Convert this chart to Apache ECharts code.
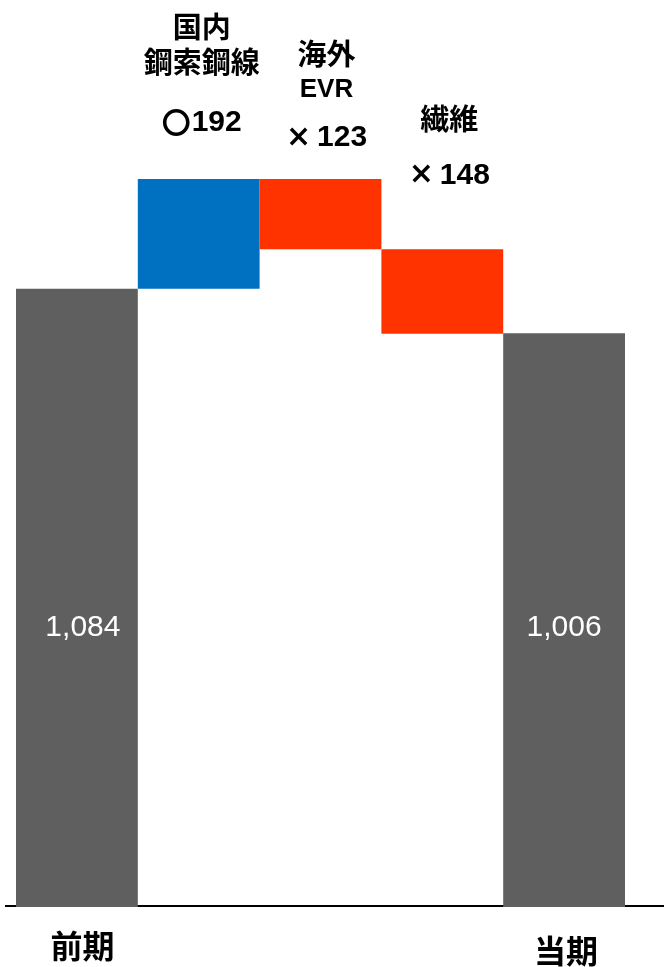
<!DOCTYPE html>
<html>
<head>
<meta charset="utf-8">
<script src="https://cdn.jsdelivr.net/npm/echarts@6/dist/echarts.min.js"></script>
<style>
html,body{margin:0;padding:0;background:#fff;}
#c{width:664px;height:967px;}
</style>
</head>
<body>
<div id="c"></div>
<script>
// ---- data ----
const categories = ['前期', '国内\n鋼索鋼線', '海外\nEVR', '繊維', '当期'];
const startValue = 1084;
const deltaValues = [192, -123, -148];
const endValue = 1006;
const totalLabels = ['1,084', '1,006'];

// ---- styles ----
const GRAY = '#5f5f5f', BLUE = '#0070c0', RED = '#ff3300';
const deltaLabelStyle = [
  { vLH: 88, dist: 12, dx: 3 },
  { vLH: 60, dist: 11, dx: 6 },
  { vLH: 78, dist: 35, dx: 7 }
];

// ---- build waterfall ----
const baseData = [0];
const barData = [];
barData.push({
  value: startValue,
  itemStyle: { color: GRAY },
  label: { show: true, position: 'insideBottom', distance: 264, offset: [6, 0],
           formatter: totalLabels[0], color: '#fff', fontSize: 30,
           fontFamily: 'Liberation Sans, Arial, sans-serif' }
});
let running = startValue;
deltaValues.forEach((d, i) => {
  let base;
  if (d >= 0) { base = running; running += d; }
  else { running += d; base = running; }
  baseData.push(base);
  const nameLines = categories[i + 1].split('\n').map(s =>
    /^[A-Za-z0-9]+$/.test(s) ? '{e|' + s + '}' : '{n|' + s + '}');
  const sym = d >= 0 ? '〇' : '×';
  const st = deltaLabelStyle[i];
  barData.push({
    value: Math.abs(d),
    itemStyle: { color: d >= 0 ? BLUE : RED },
    label: {
      show: true, position: 'top', distance: st.dist, offset: [st.dx, 0],
      formatter: nameLines.join('\n') + '\n{' + (d >= 0 ? 'c' : 'x') + '|' + sym + '}{v|' + Math.abs(d) + '}',
      rich: {
        n: { fontSize: 29, fontWeight: 'bold', lineHeight: 35, color: '#000',
             fontFamily: 'Noto Sans CJK JP' },
        e: { fontSize: 26, fontWeight: 'bold', lineHeight: 37, color: '#000',
             fontFamily: 'Liberation Sans, Arial, sans-serif' },
        c: { fontSize: 29, fontWeight: 'bold', lineHeight: st.vLH, color: '#000',
             fontFamily: 'Noto Sans CJK JP', padding: [0, 1, 0, 0] },
        x: { fontSize: 30, fontWeight: 'bold', lineHeight: st.vLH, color: '#000',
             fontFamily: 'DejaVu Sans', padding: [0, 6, 0, 0] },
        v: { fontSize: 30, fontWeight: 'bold', lineHeight: st.vLH, color: '#000',
             fontFamily: 'Liberation Sans, Arial, sans-serif' }
      }
    }
  });
});
baseData.push(0);
barData.push({
  value: endValue,
  itemStyle: { color: GRAY },
  label: { show: true, position: 'insideBottom', distance: 264,
           formatter: totalLabels[1], color: '#fff', fontSize: 30,
           fontFamily: 'Liberation Sans, Arial, sans-serif' }
});

const chart = echarts.init(document.getElementById('c'), null, { renderer: 'canvas' });
const gridBottom = 60;
chart.setOption({
  animation: false,
  backgroundColor: '#fff',
  grid: { left: 16, right: 39, top: 0, bottom: gridBottom, containLabel: false },
  xAxis: {
    type: 'category',
    data: categories,
    axisLine: { show: false },
    axisTick: { show: false },
    axisLabel: {
      interval: 0,
      margin: 23,
      formatter: (v, i) => i === 0 ? '{a|' + v + '}' : (i === categories.length - 1 ? '{b|' + v + '}' : ''),
      rich: {
        a: { fontSize: 32, fontWeight: 'bold', color: '#000', fontFamily: 'Noto Sans CJK JP',
             padding: [0, 0, 0, 11] },
        b: { fontSize: 32, fontWeight: 'bold', color: '#000', fontFamily: 'Noto Sans CJK JP',
             padding: [5, 0, 0, 4] }
      }
    }
  },
  yAxis: { type: 'value', min: 0, max: 1590, show: false, splitLine: { show: false } },
  graphic: {
    elements: [{
      type: 'line', z: -10, silent: true,
      shape: { x1: 5, y1: 967 - gridBottom - 1, x2: 664, y2: 967 - gridBottom - 1 },
      style: { stroke: '#000', lineWidth: 2 }
    }]
  },
  series: [
    { type: 'bar', stack: 'w', data: baseData, itemStyle: { color: 'transparent' },
      barCategoryGap: 0, silent: true, z: 3 },
    { type: 'bar', stack: 'w', data: barData, barCategoryGap: 0, z: 3 }
  ]
});
</script>
</body>
</html>
